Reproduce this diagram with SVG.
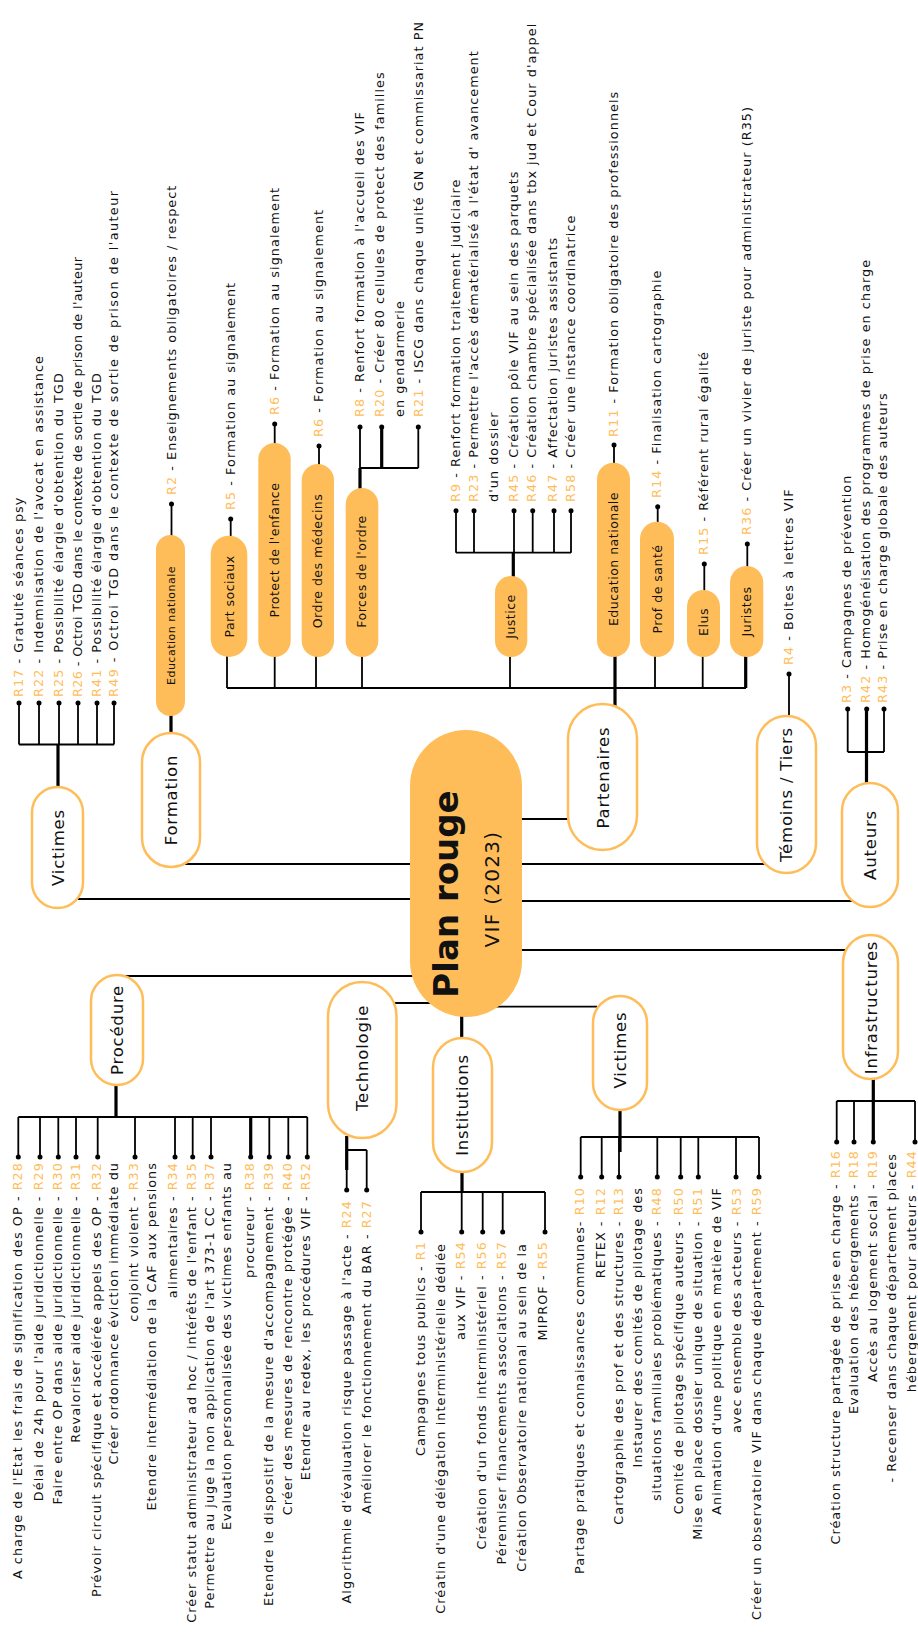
<svg xmlns="http://www.w3.org/2000/svg" width="918" height="1639" viewBox="0 0 918 1639">
<style>
text{font-family:"DejaVu Sans","Liberation Sans",sans-serif;fill:#111}
.t{font-size:12.8px;letter-spacing:1.05px}
.e{text-anchor:end}
.m{text-anchor:middle}
.o{fill:#FFBD59}
.c{font-size:16.5px;letter-spacing:0.8px}
.s{font-size:12.5px;letter-spacing:0.5px}
.ln{stroke:#000;stroke-width:1.8;fill:none}
.th{stroke:#000;stroke-width:3.2;fill:none}
.cat{fill:#fff;stroke:#FFBD59;stroke-width:2.5}
.sub{fill:#FFBD59}
.d{fill:#000}
</style>
<rect width="918" height="1639" fill="#fff"/>

<g id="connectors">
<path class="ln" d="M78 899H410M185 864H410M124 976H413M395 1003H430M493 1006.7H597M521.7 950H846.7M521.7 901H853M521.7 864H766.7M521.7 819H570"/>
<path class="th" d="M461.7 1016V1039"/>
<!-- Victimes top -->
<path class="th" d="M58 788V744.5"/>
<path class="ln" d="M19 744.5H114M19 744.5V703M39 744.5V703M59 744.5V703M78 744.5V703M97 744.5V703M114 744.5V703"/>
<!-- Formation -->
<path class="th" d="M171 734V715"/>
<path class="ln" d="M171.5 536V504"/>
<!-- Procedure -->
<path class="th" d="M116 1084V1117"/>
<path class="ln" d="M18.3 1117H307.3M18.3 1117V1157M40 1117V1157M58.3 1117V1157M76 1117V1157M97.7 1117V1157M135 1117V1157M175 1117V1157M192.7 1117V1157M211 1117V1157M269.3 1117V1157M288.3 1117V1157M307.3 1117V1157"/>
<path class="th" d="M250.7 1117V1157"/>
<!-- Technologie -->
<path class="th" d="M346.7 1136V1170"/>
<path class="ln" d="M346.7 1150H366.7M346.7 1150V1190M366.7 1150V1190"/>
<!-- Institutions -->
<path class="th" d="M462 1171V1192"/>
<path class="ln" d="M421 1192H545M421 1192V1232M461.7 1192V1232M482.7 1192V1232M502.7 1192V1232M545 1192V1232"/>
<!-- Victimes bottom -->
<path class="th" d="M620 1109V1152"/>
<path class="ln" d="M580.7 1137H759M580.7 1137V1177M601.7 1137V1177M619 1137V1177M657.3 1137V1177M680.7 1137V1177M698.3 1137V1177M736 1137V1177M759 1137V1177"/>
<!-- Infrastructures -->
<path class="th" d="M873.3 1078V1142"/>
<path class="ln" d="M836.7 1101H915M836.7 1101V1142M854 1101V1142M915 1101V1142"/>
<!-- Auteurs -->
<path class="th" d="M866.5 784V709"/>
<path class="ln" d="M847.7 752H884M847.7 752V709M884 752V709"/>
<!-- Temoins -->
<path class="ln" d="M789 717V674"/>
<!-- Partenaires -->
<path class="th" d="M615 708V656M745.7 688V656"/>
<path class="ln" d="M227 688H746M227 688V656M274.7 688V656M316 688V656M362 688V656M510 688V656M655 688V656M702.7 688V656"/>
<path class="ln" d="M230.7 536V519M274.7 444V424M319 465V446M614 463V445M657.7 522V506.7M704.3 591V564M747.3 567V544"/>
<path class="th" d="M360 489V468M381.7 468V427M513.3 577V552.7"/>
<path class="ln" d="M360 468H418.3M360 468V427M418.3 468V427M456 552.7H571M456 552.7V510.7M474 552.7V510.7M514 552.7V510.7M532.7 552.7V510.7M554 552.7V510.7M571 552.7V510.7"/>
<!-- dots -->
<g class="d">
<circle cx="19" cy="703" r="2.5"/><circle cx="39" cy="703" r="2.5"/><circle cx="59" cy="703" r="2.5"/><circle cx="78" cy="703" r="2.5"/><circle cx="97" cy="703" r="2.5"/><circle cx="114" cy="703" r="2.5"/>
<circle cx="171.5" cy="504" r="2.5"/>
<circle cx="18.3" cy="1157" r="2.5"/><circle cx="40" cy="1157" r="2.5"/><circle cx="58.3" cy="1157" r="2.5"/><circle cx="76" cy="1157" r="2.5"/><circle cx="97.7" cy="1157" r="2.5"/><circle cx="135" cy="1157" r="2.5"/><circle cx="175" cy="1157" r="2.5"/><circle cx="192.7" cy="1157" r="2.5"/><circle cx="211" cy="1157" r="2.5"/><circle cx="250.7" cy="1157" r="2.5"/><circle cx="269.3" cy="1157" r="2.5"/><circle cx="288.3" cy="1157" r="2.5"/><circle cx="307.3" cy="1157" r="2.5"/>
<circle cx="346.7" cy="1190" r="2.5"/><circle cx="366.7" cy="1190" r="2.5"/>
<circle cx="421" cy="1232" r="2.5"/><circle cx="461.7" cy="1232" r="2.5"/><circle cx="482.7" cy="1232" r="2.5"/><circle cx="502.7" cy="1232" r="2.5"/><circle cx="545" cy="1232" r="2.5"/>
<circle cx="580.7" cy="1177" r="2.5"/><circle cx="601.7" cy="1177" r="2.5"/><circle cx="619" cy="1177" r="2.5"/><circle cx="657.3" cy="1177" r="2.5"/><circle cx="680.7" cy="1177" r="2.5"/><circle cx="698.3" cy="1177" r="2.5"/><circle cx="736" cy="1177" r="2.5"/><circle cx="759" cy="1177" r="2.5"/>
<circle cx="836.7" cy="1142" r="2.5"/><circle cx="854" cy="1142" r="2.5"/><circle cx="873.3" cy="1142" r="2.5"/><circle cx="915" cy="1142" r="2.5"/>
<circle cx="847.7" cy="709" r="2.5"/><circle cx="866.7" cy="709" r="2.5"/><circle cx="884" cy="709" r="2.5"/>
<circle cx="789" cy="674" r="2.5"/>
<circle cx="230.7" cy="519" r="2.5"/><circle cx="274.7" cy="424" r="2.5"/><circle cx="319" cy="446" r="2.5"/>
<circle cx="360" cy="427" r="2.5"/><circle cx="381.7" cy="427" r="2.5"/><circle cx="418.3" cy="427" r="2.5"/>
<circle cx="456" cy="510.7" r="2.5"/><circle cx="474" cy="510.7" r="2.5"/><circle cx="514" cy="510.7" r="2.5"/><circle cx="532.7" cy="510.7" r="2.5"/><circle cx="554" cy="510.7" r="2.5"/><circle cx="571" cy="510.7" r="2.5"/>
<circle cx="614" cy="445" r="2.5"/><circle cx="657.7" cy="506.7" r="2.5"/><circle cx="704.3" cy="564" r="2.5"/><circle cx="747.3" cy="544" r="2.5"/>
</g>
</g>

<g id="center">
<rect x="410" y="730" width="112" height="287" rx="56" fill="#FFBD59"/>
<text class="m" transform="translate(458 894) rotate(-90)" style="font-size:34px;font-weight:bold">Plan rouge</text>
<text class="m" transform="translate(499 889) rotate(-90)" style="font-size:20px;letter-spacing:1.3px">VIF (2023)</text>
</g>

<g id="victimes-haut">
<rect class="cat" x="32" y="787" width="51" height="121" rx="25.5"/>
<text class="c m" transform="translate(63.5 847.5) rotate(-90)">Victimes</text>
<text class="t" transform="translate(23 697) rotate(-90)"><tspan class="o">R17</tspan> - Gratuité séances psy</text>
<text class="t" transform="translate(43 697) rotate(-90)"><tspan class="o">R22</tspan> - Indemnisation de l'avocat en assistance</text>
<text class="t" transform="translate(63 697) rotate(-90)"><tspan class="o">R25</tspan> - Possibilité élargie d'obtention du TGD</text>
<text class="t" transform="translate(82 697) rotate(-90)" textLength="441"><tspan class="o">R26</tspan> - Octroi TGD dans le contexte de sortie de prison de l'auteur</text>
<text class="t" transform="translate(101 697) rotate(-90)"><tspan class="o">R41</tspan> - Possibilité élargie d'obtention du TGD</text>
<text class="t" transform="translate(118 697) rotate(-90)" textLength="507"><tspan class="o">R49</tspan> - Octroi TGD dans le contexte de sortie de prison de l'auteur</text>
</g>

<g id="formation">
<rect class="cat" x="142" y="733" width="58" height="134" rx="29"/>
<text class="c m" transform="translate(177 800) rotate(-90)">Formation</text>
</g>
<g id="formation-education">
<rect class="sub" x="156" y="535" width="29" height="181" rx="14.5"/>
<text class="m" transform="translate(174.5 625.5) rotate(-90)" style="font-size:11px;letter-spacing:0.5px">Education nationale</text>
<text class="t" transform="translate(175.5 495) rotate(-90)"><tspan class="o">R2</tspan> -  Enseignements obligatoires / respect</text>
</g>

<g id="partenaires">
<rect class="cat" x="568" y="704" width="69" height="146" rx="34.5"/>
<text class="c m" transform="translate(608.5 777.5) rotate(-90)">Partenaires</text>
</g>
<g id="part-sociaux">
<rect class="sub" x="210.7" y="535.7" width="36.6" height="121.3" rx="18.3"/>
<text class="s m" transform="translate(233.5 596.5) rotate(-90)">Part sociaux</text>
<text class="t" transform="translate(234.5 510) rotate(-90)"><tspan class="o">R5</tspan> -  Formation au signalement</text>
</g>
<g id="protect-enfance">
<rect class="sub" x="258.3" y="443" width="32.4" height="214" rx="16.2"/>
<text class="s m" transform="translate(278.5 550) rotate(-90)">Protect de l'enfance</text>
<text class="t" transform="translate(278.5 415) rotate(-90)"><tspan class="o">R6</tspan> -  Formation au signalement</text>
</g>
<g id="ordre-medecins">
<rect class="sub" x="301.7" y="464" width="32.3" height="193" rx="16.2"/>
<text class="s m" transform="translate(322 561) rotate(-90)">Ordre des médecins</text>
<text class="t" transform="translate(322.5 437) rotate(-90)"><tspan class="o">R6</tspan> -  Formation au signalement</text>
</g>
<g id="forces-ordre">
<rect class="sub" x="345.7" y="488" width="32.6" height="169" rx="16.3"/>
<text class="s m" transform="translate(366 571.5) rotate(-90)">Forces de l'ordre</text>
<text class="t" transform="translate(363.5 417) rotate(-90)"><tspan class="o">R8</tspan> - Renfort formation à l'accueil des VIF</text>
<text class="t" transform="translate(384 417) rotate(-90)"><tspan class="o">R20</tspan> - Créer 80 cellules de protect des familles</text>
<text class="t" transform="translate(404 417) rotate(-90)">en gendarmerie</text>
<text class="t" transform="translate(422.5 417) rotate(-90)"><tspan class="o">R21</tspan> - ISCG dans chaque unité GN et commissariat PN</text>
</g>
<g id="justice">
<rect class="sub" x="495" y="576" width="32.3" height="81" rx="16.2"/>
<text class="s m" transform="translate(515 616.5) rotate(-90)">Justice</text>
<text class="t" transform="translate(459.5 502) rotate(-90)"><tspan class="o">R9</tspan> - Renfort formation traitement judiciaire</text>
<text class="t" transform="translate(478 502) rotate(-90)"><tspan class="o">R23</tspan> -  Permettre l'accès dématérialisé à l'état d' avancement</text>
<text class="t" transform="translate(498 502) rotate(-90)">d'un dossier</text>
<text class="t" transform="translate(517.5 502) rotate(-90)"><tspan class="o">R45</tspan> - Création pôle VIF au sein des parquets</text>
<text class="t" transform="translate(536 502) rotate(-90)"><tspan class="o">R46</tspan> - Création chambre spécialisée dans tbx jud et Cour d'appel</text>
<text class="t" transform="translate(556.5 502) rotate(-90)"><tspan class="o">R47</tspan> - Affectation juristes assistants</text>
<text class="t" transform="translate(574.5 502) rotate(-90)"><tspan class="o">R58</tspan> - Créer une instance coordinatrice</text>
</g>
<g id="partenaires-education">
<rect class="sub" x="597" y="462.7" width="33" height="194.3" rx="16.5"/>
<text class="s m" transform="translate(618 559) rotate(-90)">Education nationale</text>
<text class="t" transform="translate(617.5 437) rotate(-90)"><tspan class="o">R11</tspan> -  Formation obligatoire des professionnels</text>
</g>
<g id="prof-sante">
<rect class="sub" x="640" y="521.7" width="34" height="135.3" rx="17"/>
<text class="s m" transform="translate(661.5 589) rotate(-90)">Prof de santé</text>
<text class="t" transform="translate(661 498) rotate(-90)"><tspan class="o">R14</tspan> - Finalisation cartographie</text>
</g>
<g id="elus">
<rect class="sub" x="687" y="590" width="33" height="67" rx="16.5"/>
<text class="s m" transform="translate(707.5 622) rotate(-90)">Elus</text>
<text class="t" transform="translate(707.5 555) rotate(-90)"><tspan class="o">R15</tspan> - Référent rural égalité</text>
</g>
<g id="juristes">
<rect class="sub" x="730" y="566" width="33.3" height="91" rx="16.6"/>
<text class="s m" transform="translate(750.5 611.5) rotate(-90)">Juristes</text>
<text class="t" transform="translate(750.5 535) rotate(-90)"><tspan class="o">R36</tspan> - Créer un vivier de juriste pour administrateur (R35)</text>
</g>

<g id="temoins">
<rect class="cat" x="757" y="716" width="59" height="157" rx="29.5"/>
<text class="c m" transform="translate(792 794.5) rotate(-90)">Témoins / Tiers</text>
<text class="t" transform="translate(792.5 665) rotate(-90)"><tspan class="o">R4</tspan> - Boites à lettres VIF</text>
</g>

<g id="auteurs">
<rect class="cat" x="842" y="783" width="56" height="124" rx="28"/>
<text class="c m" transform="translate(876 845) rotate(-90)">Auteurs</text>
<text class="t" transform="translate(851 703) rotate(-90)"><tspan class="o">R3</tspan> - Campagnes de prévention</text>
<text class="t" transform="translate(869.5 703) rotate(-90)"><tspan class="o">R42</tspan> - Homogénéisation des programmes de prise en charge</text>
<text class="t" transform="translate(887 703) rotate(-90)"><tspan class="o">R43</tspan> - Prise en charge globale des auteurs</text>
</g>

<g id="infrastructures">
<rect class="cat" x="843" y="935" width="55" height="144" rx="27.5"/>
<text class="c m" transform="translate(876.5 1007.5) rotate(-90)">Infrastructures</text>
<text class="t e" transform="translate(840 1150) rotate(-90)">Création structure partagée de prise en charge - <tspan class="o">R16</tspan></text>
<text class="t e" transform="translate(857.5 1150) rotate(-90)">Evaluation des hébergements - <tspan class="o">R18</tspan></text>
<text class="t e" transform="translate(876.5 1150) rotate(-90)">Accès au logement social - <tspan class="o">R19</tspan></text>
<text class="t e" transform="translate(896 1153) rotate(-90)">- Recenser dans chaque département places</text>
<text class="t e" transform="translate(916 1150) rotate(-90)">hébergement pour auteurs - <tspan class="o">R44</tspan></text>
</g>

<g id="victimes-bas">
<rect class="cat" x="593" y="996" width="54" height="114" rx="27"/>
<text class="c m" transform="translate(625.5 1050) rotate(-90)">Victimes</text>
<text class="t e" transform="translate(584 1187) rotate(-90)">Partage pratiques et connaissances communes- <tspan class="o">R10</tspan></text>
<text class="t e" transform="translate(604.5 1187) rotate(-90)">RETEX - <tspan class="o">R12</tspan></text>
<text class="t e" transform="translate(622.5 1187) rotate(-90)">Cartographie des prof et des structures - <tspan class="o">R13</tspan></text>
<text class="t e" transform="translate(642 1187) rotate(-90)">Instaurer des comités de pilotage des</text>
<text class="t e" transform="translate(661 1187) rotate(-90)">situations familiales problématiques  - <tspan class="o">R48</tspan></text>
<text class="t e" transform="translate(683 1187) rotate(-90)">Comité de pilotage spécifique auteurs - <tspan class="o">R50</tspan></text>
<text class="t e" transform="translate(701.5 1187) rotate(-90)">Mise en place dossier unique de situation - <tspan class="o">R51</tspan></text>
<text class="t e" transform="translate(721 1187) rotate(-90)">Animation d'une politique en matière de VIF</text>
<text class="t e" transform="translate(740.5 1187) rotate(-90)">avec ensemble des acteurs - <tspan class="o">R53</tspan></text>
<text class="t e" transform="translate(761 1187) rotate(-90)">Créer un observatoire VIF dans chaque département - <tspan class="o">R59</tspan></text>
</g>

<g id="institutions">
<rect class="cat" x="433" y="1038" width="59" height="134" rx="29.5"/>
<text class="c m" transform="translate(468 1105) rotate(-90)">Institutions</text>
<text class="t e" transform="translate(424.5 1241) rotate(-90)">Campagnes tous publics - <tspan class="o">R1</tspan></text>
<text class="t e" transform="translate(444.5 1243) rotate(-90)">Créatin d'une délégation interministérielle dédiée</text>
<text class="t e" transform="translate(465 1241) rotate(-90)">aux VIF - <tspan class="o">R54</tspan></text>
<text class="t e" transform="translate(485.5 1241) rotate(-90)">Création d'un fonds interministériel - <tspan class="o">R56</tspan></text>
<text class="t e" transform="translate(505.5 1241) rotate(-90)">Pérenniser financements associations - <tspan class="o">R57</tspan></text>
<text class="t e" transform="translate(526 1243) rotate(-90)">Création Observatoire national au sein de la</text>
<text class="t e" transform="translate(547 1241) rotate(-90)">MIPROF - <tspan class="o">R55</tspan></text>
</g>

<g id="technologie">
<rect class="cat" x="328" y="982" width="68.5" height="156" rx="34"/>
<text class="c m" transform="translate(367.5 1058) rotate(-90)">Technologie</text>
<text class="t e" transform="translate(350.5 1200) rotate(-90)">Algorithmie d'évaluation risque passage à l'acte - <tspan class="o">R24</tspan></text>
<text class="t e" transform="translate(370.5 1200) rotate(-90)">Améliorer le fonctionnement du BAR - <tspan class="o">R27</tspan></text>
</g>

<g id="procedure">
<rect class="cat" x="91" y="975" width="52" height="110" rx="26"/>
<text class="c m" transform="translate(122.5 1030) rotate(-90)">Procédure</text>
<text class="t e" transform="translate(22 1162) rotate(-90)">A charge de l'Etat les frais de signification des OP - <tspan class="o">R28</tspan></text>
<text class="t e" transform="translate(43 1162) rotate(-90)">Délai de 24h pour l'aide juridictionnelle - <tspan class="o">R29</tspan></text>
<text class="t e" transform="translate(61.5 1162) rotate(-90)">Faire entre OP dans aide juridictionnelle - <tspan class="o">R30</tspan></text>
<text class="t e" transform="translate(79.5 1162) rotate(-90)">Revaloriser aide juridictionnelle - <tspan class="o">R31</tspan></text>
<text class="t e" transform="translate(100.5 1162) rotate(-90)">Prévoir circuit spécifique et accélérée appels des OP - <tspan class="o">R32</tspan></text>
<text class="t e" transform="translate(117.5 1162) rotate(-90)">Créer ordonnance éviction immédiate du</text>
<text class="t e" transform="translate(138 1162) rotate(-90)">conjoint violent - <tspan class="o">R33</tspan></text>
<text class="t e" transform="translate(156 1162) rotate(-90)">Etendre intermédiation de la CAF aux pensions</text>
<text class="t e" transform="translate(177 1162) rotate(-90)">alimentaires - <tspan class="o">R34</tspan></text>
<text class="t e" transform="translate(195.5 1162) rotate(-90)">Créer statut administrateur ad hoc / intérêts de l'enfant - <tspan class="o">R35</tspan></text>
<text class="t e" transform="translate(213.5 1162) rotate(-90)">Permettre au juge la non application de l'art 373-1 CC - <tspan class="o">R37</tspan></text>
<text class="t e" transform="translate(231 1162) rotate(-90)">Evaluation personnalisée des victimes enfants au</text>
<text class="t e" transform="translate(253.5 1162) rotate(-90)">procureur - <tspan class="o">R38</tspan></text>
<text class="t e" transform="translate(272.5 1162) rotate(-90)">Etendre le dispositif de la mesure d'accompagnement - <tspan class="o">R39</tspan></text>
<text class="t e" transform="translate(291.5 1162) rotate(-90)">Créer des mesures de rencontre protégée - <tspan class="o">R40</tspan></text>
<text class="t e" transform="translate(310 1162) rotate(-90)">Etendre au redex, les procédures VIF - <tspan class="o">R52</tspan></text>
</g>
</svg>
